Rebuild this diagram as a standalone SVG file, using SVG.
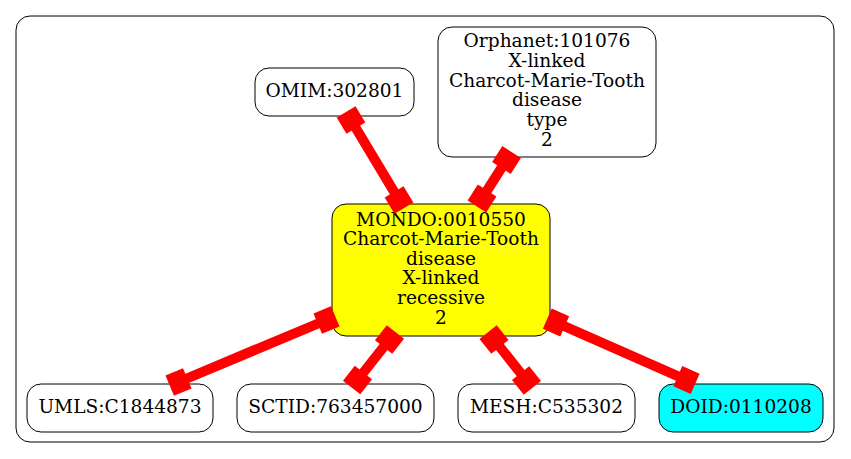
<svg xmlns="http://www.w3.org/2000/svg" width="851" height="459" viewBox="0 0 851 459">
<style>
.n{fill:#fff;stroke:#000;stroke-width:1}
.t{font-family:"DejaVu Serif","Liberation Serif",serif;font-size:18.6px;text-anchor:middle;fill:#000}
.e{stroke:#f00;stroke-width:10;fill:none;marker-start:url(#tee);marker-end:url(#tee)}
</style>
<defs>
<marker id="tee" markerUnits="userSpaceOnUse" markerWidth="26" markerHeight="26" viewBox="-13 -13 26 26" refX="0" refY="0" orient="auto">
<rect x="-9.5" y="-11" width="19" height="22" fill="#f00"/>
</marker>
</defs>
<rect x="16" y="16" width="818" height="426" rx="14" fill="#fff" stroke="#000"/>
<g id="omim"><rect class="n" x="255" y="68" width="159" height="48" rx="14"/><text class="t" x="334.5" y="96.5">OMIM:302801</text></g>
<g id="orphanet"><rect class="n" x="438" y="27" width="218" height="130" rx="14"/>
<text class="t" x="547" y="47">Orphanet:101076</text><text class="t" x="547" y="67">X-linked</text><text class="t" x="547" y="86.5">Charcot-Marie-Tooth</text><text class="t" x="547" y="106">disease</text><text class="t" x="547" y="126">type</text><text class="t" x="547" y="146">2</text></g>
<g id="mondo"><rect class="n" x="332" y="204" width="218" height="132" rx="14" style="fill:#ff0"/>
<text class="t" x="441" y="225.5">MONDO:0010550</text><text class="t" x="441" y="245">Charcot-Marie-Tooth</text><text class="t" x="441" y="264.5">disease</text><text class="t" x="441" y="284">X-linked</text><text class="t" x="441" y="304">recessive</text><text class="t" x="441" y="323.5">2</text></g>
<g id="umls"><rect class="n" x="27" y="384" width="186" height="48" rx="14"/><text class="t" x="120" y="412.5">UMLS:C1844873</text></g>
<g id="sctid"><rect class="n" x="237" y="384" width="197" height="48" rx="14"/><text class="t" x="335.5" y="412.5">SCTID:763457000</text></g>
<g id="mesh"><rect class="n" x="458" y="384" width="177" height="48" rx="14"/><text class="t" x="546.5" y="412.5">MESH:C535302</text></g>
<g id="doid"><rect class="n" x="659" y="384" width="164" height="48" rx="14" style="fill:#0ff"/><text class="t" x="741" y="412.5">DOID:0110208</text></g>
<g id="connectors">
<path class="e" d="M351,120L399,200"/>
<path class="e" d="M506.5,160L482,198.5"/>
<path class="e" d="M326.5,320L178.5,382"/>
<path class="e" d="M389.5,339.5L357.5,380"/>
<path class="e" d="M494,339.5L526.5,380.5"/>
<path class="e" d="M556,322.5L686.5,380"/>
</g>
</svg>
